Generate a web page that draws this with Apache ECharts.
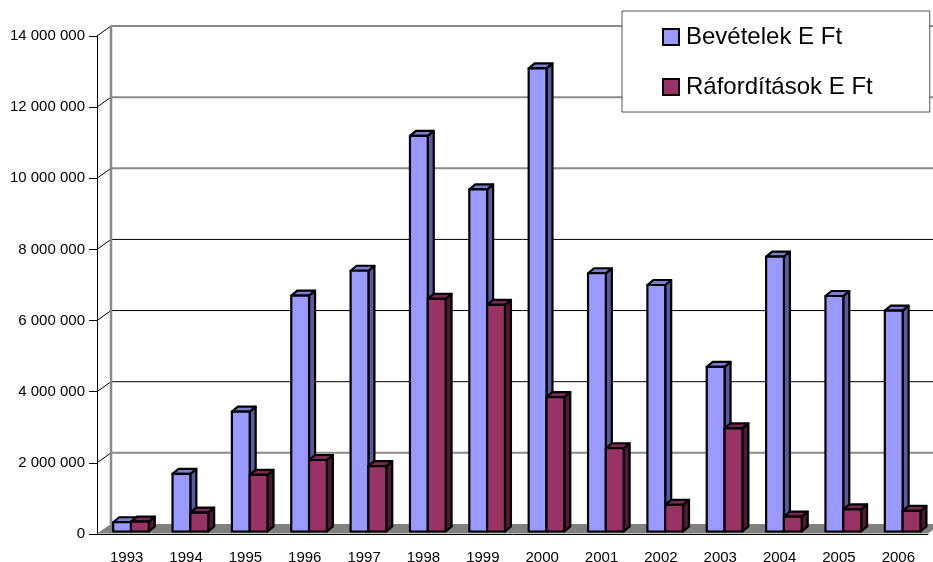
<!DOCTYPE html>
<html>
<head>
<meta charset="utf-8">
<script src="https://cdn.jsdelivr.net/npm/echarts@6/dist/echarts.min.js"></script>
<style>
  html, body { margin: 0; padding: 0; background: #fff; }
  #chart { width: 933px; height: 562px; }
</style>
</head>
<body>
<div id="chart"></div>
<script>
// Yearly figures, thousand forints
const years = ['1993', '1994', '1995', '1996', '1997', '1998', '1999', '2000', '2001', '2002', '2003', '2004', '2005', '2006'];
const revenue = [260000, 1620000, 3370000, 6630000, 7330000, 11120000, 9620000, 13020000, 7260000, 6930000, 4630000, 7730000, 6620000, 6210000];
const expenses = [280000, 530000, 1590000, 2010000, 1840000, 6540000, 6370000, 3780000, 2340000, 750000, 2900000, 420000, 620000, 580000];
const yTicks = [0, 2000000, 4000000, 6000000, 8000000, 10000000, 12000000, 14000000];
const seriesNames = ['Bevételek E Ft', 'Ráfordítások E Ft'];

// depth of the back wall / floor and of each bar
const WALL_DX = 14, WALL_DY = -10;
const BAR_DX = 6, BAR_DY = -5;
const FONT = '"Liberation Sans", Arial, sans-serif';

function fmt(v) {
  return String(v).replace(/\B(?=(\d{3})+(?!\d))/g, ' ');
}

// Floor, back wall and its gridlines
function renderFrame(params, api) {
  const bw = api.size([1, 0])[0];
  const left = api.coord([0, 0])[0] - bw / 2;
  const right = api.coord([years.length - 1, 0])[0] + bw / 2;
  const y0 = api.coord([0, 0])[1];
  const yTop = api.coord([0, yTicks[yTicks.length - 1]])[1];
  const children = [];
  children.push({
    type: 'polygon',
    shape: { points: [[left, y0 - 0.5], [right, y0 - 0.5], [right + WALL_DX, y0 + WALL_DY], [left + WALL_DX, y0 + WALL_DY]] },
    style: { fill: '#808080' }
  });
  yTicks.forEach(function (v, k) {
    if (v === 0) return;
    const y = api.coord([0, v])[1];
    const soft = (k === 1 || k >= 5);
    children.push({
      type: 'line',
      shape: { x1: left + WALL_DX, y1: y + WALL_DY, x2: right + WALL_DX + 30, y2: y + WALL_DY },
      style: soft ? { stroke: '#8a8a8a', lineWidth: 2 } : { stroke: '#000', lineWidth: 1 }
    });
    children.push({
      type: 'line',
      shape: { x1: left, y1: y, x2: left + WALL_DX, y2: y + WALL_DY },
      style: { stroke: '#000', lineWidth: 1 }
    });
  });
  children.push({
    type: 'line',
    shape: { x1: left + WALL_DX, y1: y0 + WALL_DY, x2: left + WALL_DX, y2: yTop + WALL_DY },
    style: { stroke: '#8a8a8a', lineWidth: 2.5 }
  });
  return { type: 'group', children: children };
}

// Box-shaped bar: front face, top and right side
function barRenderer(slot, faceColor, topColor, sideColor) {
  return function (params, api) {
    const i = api.value(0), v = api.value(1);
    const base = api.coord([i, 0]);
    const peak = api.coord([i, v]);
    const bw = api.size([1, 0])[0];
    const w = bw * 0.3;
    const x0 = base[0] + bw * (slot === 0 ? -0.2275 : 0.0725);
    const x1 = x0 + w;
    const yb = base[1] - 2.5, yt = peak[1] - 2.5;
    const line = { stroke: '#000', lineWidth: 2.2, lineJoin: 'round' };
    return {
      type: 'group',
      children: [
        { type: 'polygon', shape: { points: [[x1, yb], [x1 + BAR_DX, yb + BAR_DY], [x1 + BAR_DX, yt + BAR_DY], [x1, yt]] },
          style: Object.assign({ fill: sideColor }, line) },
        { type: 'polygon', shape: { points: [[x0, yt], [x1, yt], [x1 + BAR_DX, yt + BAR_DY], [x0 + BAR_DX, yt + BAR_DY]] },
          style: Object.assign({ fill: topColor }, line) },
        { type: 'rect', shape: { x: x0, y: yt, width: w, height: yb - yt },
          style: Object.assign({ fill: faceColor }, line) }
      ]
    };
  };
}

const chart = echarts.init(document.getElementById('chart'), null, { renderer: 'canvas' });
chart.setOption({
  animation: false,
  backgroundColor: '#fff',
  textStyle: { fontFamily: FONT },
  grid: { left: 97, right: 5, top: 36, bottom: 28, containLabel: false, outerBoundsMode: 'none' },
  legend: {
    orient: 'vertical',
    left: 622,
    top: 11,
    padding: [14, 57, 13, 40],
    itemGap: 26,
    itemWidth: 16,
    itemHeight: 16,
    icon: 'rect',
    backgroundColor: '#fff',
    borderColor: '#555',
    borderWidth: 1,
    borderRadius: 0,
    textStyle: { fontFamily: FONT, fontSize: 24, color: '#000', padding: [0, 0, 0, 2] },
    itemStyle: { borderColor: '#000', borderWidth: 2 },
    data: seriesNames
  },
  xAxis: {
    type: 'category',
    data: years,
    axisLine: { lineStyle: { color: '#000', width: 1 } },
    axisTick: { length: 8, lineStyle: { color: '#000' } },
    axisLabel: { color: '#000', fontSize: 15, fontFamily: FONT, margin: 16 },
    splitLine: { show: false }
  },
  yAxis: {
    type: 'value',
    min: 0,
    max: 14000000,
    interval: 2000000,
    axisLine: { show: true, lineStyle: { color: '#000', width: 1 } },
    axisTick: { show: true, length: 8, lineStyle: { color: '#000' } },
    axisLabel: { color: '#000', fontSize: 15, fontFamily: FONT, margin: 12, formatter: fmt },
    splitLine: { show: false }
  },
  series: [
    {
      type: 'custom',
      name: 'frame',
      silent: true,
      z: 1,
      renderItem: renderFrame,
      data: [[0, 0]],
      encode: { x: 0, y: 1 }
    },
    {
      type: 'custom',
      name: seriesNames[0],
      z: 3,
      itemStyle: { color: '#9999ff' },
      renderItem: barRenderer(0, '#9999ff', '#7c7cd0', '#5a5a9c'),
      data: revenue.map(function (v, i) { return [i, v]; }),
      encode: { x: 0, y: 1 }
    },
    {
      type: 'custom',
      name: seriesNames[1],
      z: 4,
      itemStyle: { color: '#993366' },
      renderItem: barRenderer(1, '#993366', '#7a2952', '#4d1a33'),
      data: expenses.map(function (v, i) { return [i, v]; }),
      encode: { x: 0, y: 1 }
    }
  ]
});
</script>
</body>
</html>
